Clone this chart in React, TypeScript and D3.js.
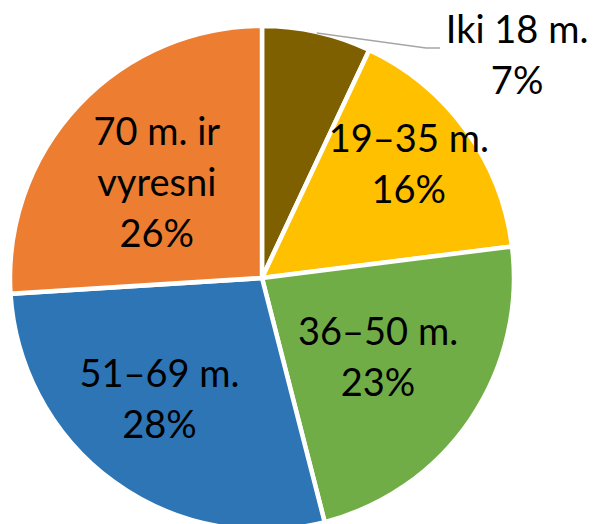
import React, { useEffect, useRef } from 'react';
import * as d3 from 'd3';

// age groups and their share of respondents (%)
const groups = ['Iki 18 m.', '19–35 m.', '36–50 m.', '51–69 m.', '70 m. ir vyresni'];
const shares = [7, 16, 23, 28, 26];
const colors = ['#7F6000', '#FFC000', '#70AD47', '#2E75B6', '#ED7D31'];
// how each label is broken into lines
const labelLines = [
  ['Iki 18 m.'],
  ['19–35 m.'],
  ['36–50 m.'],
  ['51–69 m.'],
  ['70 m. ir', 'vyresni'],
];

export default function App() {
  const svgRef = useRef<SVGSVGElement | null>(null);

  useEffect(() => {
    if (!svgRef.current) return;

    const width = 595;
    const height = 524;
    const cx = 262;
    const cy = 278;
    const radius = 252;
    const fontSize = 38;
    const lineH = 51;

    const svg = d3.select(svgRef.current);
    svg.selectAll('*').remove();

    const g = svg.append('g').attr('transform', `translate(${cx},${cy})`);

    const pie = d3.pie<number>().sort(null).value(d => d);
    const arcs = pie(shares);

    const arc = d3.arc<d3.PieArcDatum<number>>()
      .innerRadius(0)
      .outerRadius(radius);

    g.selectAll('path.slice')
      .data(arcs)
      .enter()
      .append('path')
      .attr('class', 'slice')
      .attr('d', arc)
      .attr('fill', (_, i) => colors[i])
      .attr('stroke', '#ffffff')
      .attr('stroke-width', 4.5)
      .attr('stroke-linejoin', 'miter');

    // label placement (best-fit like): radius fraction and angle nudge per slice
    const labelR = [1.31, 0.706, 0.59, 0.67, 0.53];
    const nudge = [38, 1.6, 4.5, 1.4, -5.2];

    const polar = (ang: number, r: number) => [Math.sin(ang) * r, -Math.cos(ang) * r];

    arcs.forEach((a, i) => {
      const mid = (a.startAngle + a.endAngle) / 2;
      const [lx, ly] = polar(mid + (nudge[i] * Math.PI) / 180, labelR[i] * radius);
      const lines = labelLines[i].concat([`${shares[i]}%`]);

      if (i === 0) {
        // outside label with leader line
        const [sx, sy] = polar(mid, radius - 1);
        const ex = lx - 77;
        const ey = ly - 20.5;
        g.append('polyline')
          .attr('points', `${sx},${sy} ${ex - 14},${ey} ${ex},${ey}`)
          .attr('fill', 'none')
          .attr('stroke', '#A6A6A6')
          .attr('stroke-width', 1.5);
      }

      const text = g.append('text')
        .attr('text-anchor', 'middle')
        .style('font-family', 'Lato, "Open Sans", sans-serif')
        .style('font-size', `${fontSize}px`)
        .style('fill', '#000000');

      lines.forEach((line, k) => {
        text.append('tspan')
          .attr('x', lx)
          .attr('y', ly + (k - (lines.length - 1) / 2) * lineH + 0)
          .text(line);
      });
    });

    svg.attr('width', width).attr('height', height);
  }, []);

  return (
    <svg
      ref={svgRef}
      width={595}
      height={524}
      style={{ position: 'absolute', left: 0, top: 0, background: '#ffffff' }}
    />
  );
}
